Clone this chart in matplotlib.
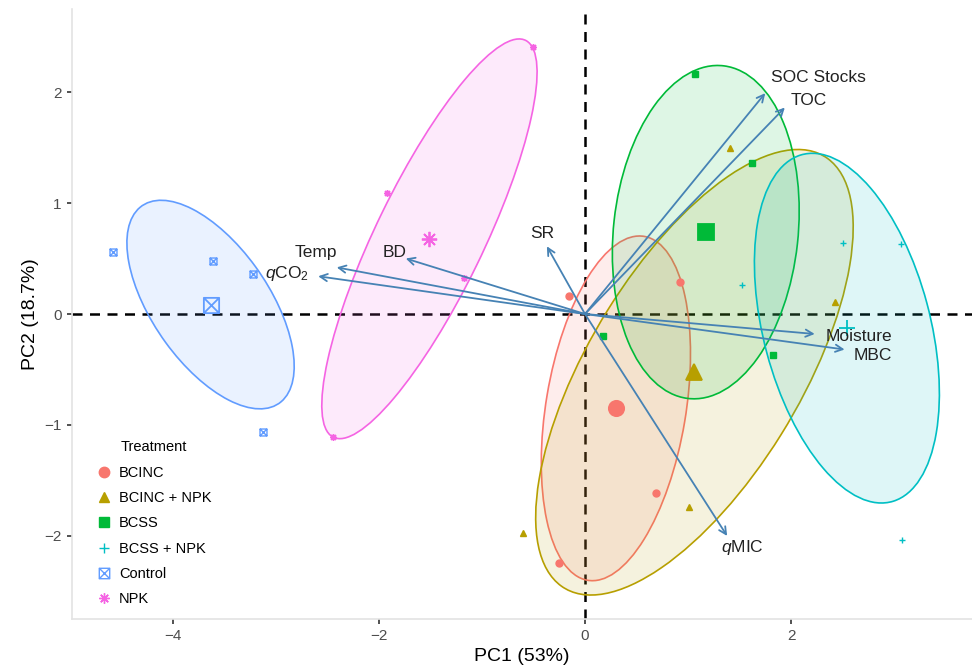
import numpy as np
import matplotlib
matplotlib.use('Agg')
import matplotlib.pyplot as plt
from matplotlib.patches import Ellipse
from matplotlib.path import Path
from matplotlib.lines import Line2D

plt.rcParams['font.family'] = ['Liberation Sans', 'DejaVu Sans']
plt.rcParams['mathtext.fontset'] = 'custom'
plt.rcParams['mathtext.rm'] = 'Liberation Sans'
plt.rcParams['mathtext.it'] = 'Liberation Sans:italic'

# PCA scores (4 plots per treatment)
treatments = ['BCINC', 'BCINC + NPK', 'BCSS', 'BCSS + NPK', 'Control', 'NPK']
bcinc_pc1 = [-0.16, 0.92, 0.69, -0.25]
bcinc_pc2 = [0.16, 0.29, -1.61, -2.24]
bcinc_npk_pc1 = [-0.60, 1.01, 1.41, 2.43]
bcinc_npk_pc2 = [-1.97, -1.74, 1.50, 0.11]
bcss_pc1 = [1.07, 1.62, 0.17, 1.83]
bcss_pc2 = [2.16, 1.36, -0.20, -0.37]
bcss_npk_pc1 = [2.50, 3.07, 1.52, 3.08]
bcss_npk_pc2 = [0.64, 0.63, 0.26, -2.04]
control_pc1 = [-4.58, -3.61, -3.22, -3.13]
control_pc2 = [0.56, 0.48, 0.36, -1.06]
npk_pc1 = [-0.50, -1.92, -1.17, -2.45]
npk_pc2 = [2.41, 1.09, 0.32, -1.11]

# variable loadings (arrow tips)
var_names = ['Temp', '$q$CO$_2$', 'BD', 'SR', 'SOC Stocks', 'TOC',
             'Moisture', 'MBC', '$q$MIC']
var_pc1 = [-2.41, -2.59, -1.74, -0.37, 1.75, 1.94, 2.23, 2.52, 1.38]
var_pc2 = [0.42, 0.34, 0.50, 0.61, 1.99, 1.86, -0.18, -0.32, -2.00]
# label offsets from the arrow tip, in pixels (right, down)
label_dx = [-21, -31, -11, -5, 53, 24, 44, 28, 15]
label_dy = [-15, -3, -6, -13, -16, -7, 3, 6, 12]

colors = ['#F8766D', '#B79F00', '#00BA38', '#00BFC4', '#619CFF', '#F564E3']

box_x = Path([(-1, -1), (1, -1), (1, 1), (-1, 1), (-1, -1),
              (-1, -1), (1, 1), (-1, 1), (1, -1)],
             [Path.MOVETO, Path.LINETO, Path.LINETO, Path.LINETO, Path.CLOSEPOLY,
              Path.MOVETO, Path.LINETO, Path.MOVETO, Path.LINETO])
markers = ['o', '^', 's', '+', box_x, (8, 2, 0)]
filled = [True, True, True, False, False, False]

groups = [(bcinc_pc1, bcinc_pc2), (bcinc_npk_pc1, bcinc_npk_pc2),
          (bcss_pc1, bcss_pc2), (bcss_npk_pc1, bcss_npk_pc2),
          (control_pc1, control_pc2), (npk_pc1, npk_pc2)]


def conf_ellipse(x, y, color, level=0.95):
    """confidence ellipse around the group mean"""
    x = np.asarray(x)
    y = np.asarray(y)
    cov = np.cov(x, y)
    r = np.sqrt(-2 * np.log(1 - level)) / np.sqrt(len(x))
    vals, vecs = np.linalg.eigh(cov)
    angle = np.degrees(np.arctan2(vecs[1, 1], vecs[0, 1]))
    return Ellipse((x.mean(), y.mean()), 2 * r * np.sqrt(vals[1]),
                   2 * r * np.sqrt(vals[0]), angle=angle,
                   facecolor=matplotlib.colors.to_rgba(color, 0.13),
                   edgecolor=color, linewidth=1.2, zorder=2)


fig = plt.figure(figsize=(9.72, 6.72), dpi=100)
ax = fig.add_axes([72 / 972, 53 / 672, 900 / 972, 610 / 672])

ax.axhline(0, color='black', linestyle=(0, (4, 3)), linewidth=1.8, zorder=1)
ax.axvline(0, color='black', linestyle=(0, (4, 3)), linewidth=1.8, zorder=1)

for (px, py), col, mk, fl in zip(groups, colors, markers, filled):
    mfc = col if fl else 'none'
    ax.plot(px, py, linestyle='none', marker=mk, color=col, mfc=mfc, mec=col,
            markersize=5, mew=1.0, zorder=3)
    ax.plot(np.mean(px), np.mean(py), linestyle='none', marker=mk, color=col,
            mfc=mfc, mec=col, markersize=11, mew=1.3, zorder=3)
    ax.add_patch(conf_ellipse(px, py, col))

for name, vx, vy, dx, dy in zip(var_names, var_pc1, var_pc2, label_dx, label_dy):
    ax.annotate('', xy=(vx, vy), xytext=(0, 0),
                arrowprops=dict(arrowstyle='->', color='#4682B4', lw=1.3,
                                mutation_scale=13, shrinkA=0, shrinkB=0),
                zorder=4)
    ax.annotate(name, xy=(vx, vy), xytext=(dx * 0.72, -dy * 0.72),
                textcoords='offset points', ha='center', va='center',
                fontsize=12.5, color='#222222', zorder=5)

ax.set_xlim(-4.98, 3.757)
ax.set_ylim(-2.748, 2.748)
ax.set_xticks([-4, -2, 0, 2])
ax.set_yticks([-2, -1, 0, 1, 2])
ax.tick_params(labelsize=11, labelcolor='#4D4D4D', color='#333333',
               length=3.5, width=1.2, pad=4)
for side in ['top', 'right']:
    ax.spines[side].set_visible(False)
for side in ['left', 'bottom']:
    ax.spines[side].set_color('#E3E3E3')
    ax.spines[side].set_linewidth(1.2)

ax.set_xlabel('PC1 (53%)', fontsize=14, labelpad=3)
ax.set_ylabel('PC2 (18.7%)', fontsize=14, labelpad=4)

handles = [Line2D([], [], linestyle='none', marker=mk, color=col,
                  mfc=(col if fl else 'none'), mec=col, markersize=7.5, mew=1.0)
           for col, mk, fl in zip(colors, markers, filled)]
ax.legend(handles, treatments, title='Treatment', loc='upper left',
          bbox_to_anchor=(0.018, 0.305), frameon=False, fontsize=10.5,
          title_fontsize=10.5, labelspacing=0.78, handletextpad=0.4,
          handlelength=1.2, borderpad=0)

fig.savefig('out.png', dpi=100)
